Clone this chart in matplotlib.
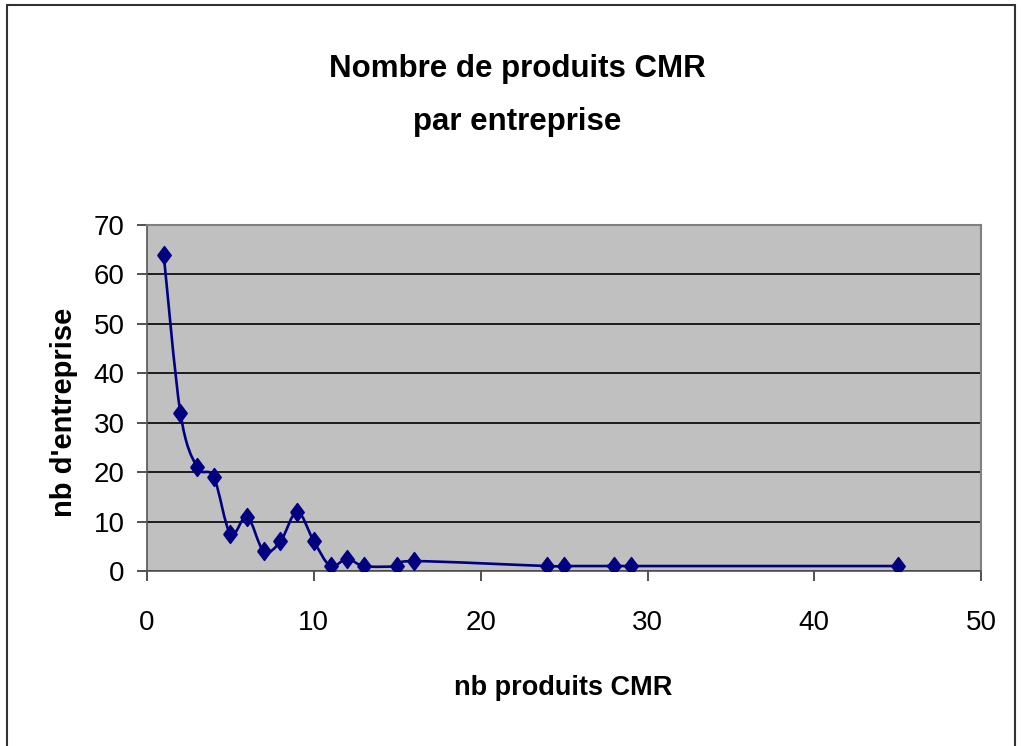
import matplotlib
matplotlib.use("Agg")
import matplotlib.pyplot as plt
from matplotlib.path import Path
from matplotlib.patches import PathPatch, Rectangle
import numpy as np

# data
nb_produits = [1, 2, 3, 4, 5, 6, 7, 8, 9, 10, 11, 12, 13, 15, 16, 24, 25, 28, 29, 45]
nb_entreprises = [64, 32, 21, 19, 7.5, 11, 4, 6, 12, 6, 1, 2.5, 1, 1, 2, 1, 1, 1, 1, 1]

x_ticks = [0, 10, 20, 30, 40, 50]
y_ticks = [0, 10, 20, 30, 40, 50, 60, 70]

plt.rcParams["font.family"] = ["Liberation Sans", "DejaVu Sans"]


def smooth_path(xs, ys):
    """Excel-style smoothed line: cubic Bezier through every point."""
    pts = np.column_stack([xs, ys]).astype(float)
    verts = [pts[0]]
    codes = [Path.MOVETO]
    n = len(pts)
    for i in range(n - 1):
        p0 = pts[i - 1] if i > 0 else pts[i]
        p1 = pts[i]
        p2 = pts[i + 1]
        p3 = pts[i + 2] if i + 2 < n else pts[i + 1]
        c1 = p1 + (p2 - p0) / 6.0
        c2 = p2 - (p3 - p1) / 6.0
        verts += [c1, c2, p2]
        codes += [Path.CURVE4] * 3
    return Path(verts, codes)


fig = plt.figure(figsize=(10.21, 7.46), dpi=100)
ax = fig.add_axes([0.144, 0.2346, 0.817, 0.4638])
ax.set_facecolor("#C0C0C0")

navy = "#000080"
diamond = [(-0.75, 0), (0, 1), (0.75, 0), (0, -1), (-0.75, 0)]
ax.add_patch(PathPatch(smooth_path(nb_produits, nb_entreprises), fill=False,
                       edgecolor=navy, linewidth=1.9, zorder=3))
ax.plot(nb_produits, nb_entreprises, linestyle="none", marker=diamond, markersize=13,
        color=navy, zorder=4)

ax.set_xlim(0, 50)
ax.set_ylim(0, 70)
ax.set_xticks(x_ticks)
ax.set_yticks(y_ticks)
ax.tick_params(axis="both", labelsize=20, direction="out", length=7, width=1.2,
               color="#333333")
ax.tick_params(axis="x", pad=21)
ax.tick_params(axis="y", pad=9)
ax.grid(True, axis="y", color="black", linewidth=1.2)
ax.set_axisbelow(True)
for side in ["top", "right"]:
    ax.spines[side].set_color("#808080")
    ax.spines[side].set_linewidth(1.5)
for side in ["left", "bottom"]:
    ax.spines[side].set_color("#555555")
    ax.spines[side].set_linewidth(1.2)

# axis titles placed on the figure, as in the original
fig.text(0.552, 0.0684, "nb produits CMR", ha="center", va="baseline",
         fontsize=19.5, fontweight="bold")
fig.text(0.0627, 0.447, "nb d'entreprise", ha="center", va="center", rotation=90,
         fontsize=21, fontweight="bold")

fig.text(0.507, 0.8968, "Nombre de produits CMR", ha="center", va="baseline",
         fontsize=22.5, fontweight="bold")
fig.text(0.507, 0.8257, "par entreprise", ha="center", va="baseline",
         fontsize=22.5, fontweight="bold")

fig.patches.append(Rectangle((0.007, -0.01), 0.987, 1.003, transform=fig.transFigure,
                             fill=False, edgecolor="#333333", linewidth=1.5))

fig.savefig("out.png", dpi=100)
